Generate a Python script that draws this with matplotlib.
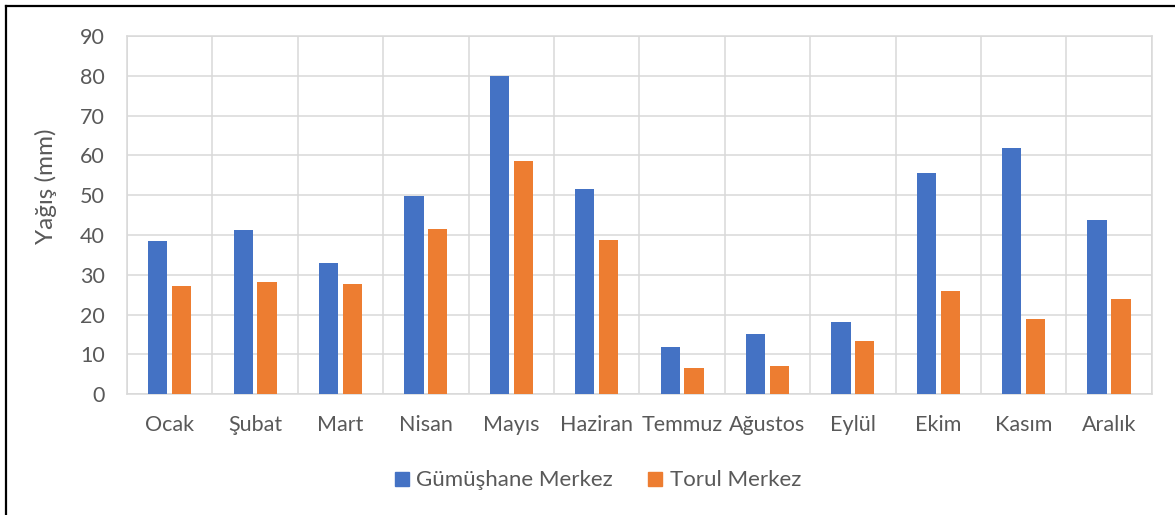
import matplotlib
matplotlib.use("Agg")
import matplotlib.pyplot as plt
import numpy as np
from matplotlib.lines import Line2D

months = ["Ocak", "Şubat", "Mart", "Nisan", "Mayıs", "Haziran",
          "Temmuz", "Ağustos", "Eylül", "Ekim", "Kasım", "Aralık"]
gumushane = [38.5, 41.2, 33.0, 49.8, 80.0, 51.5, 12.0, 15.2, 18.2, 55.5, 62.0, 43.7]
torul = [27.2, 28.3, 27.8, 41.5, 58.5, 38.8, 6.6, 7.0, 13.4, 25.9, 18.9, 23.9]
series_names = ["Gümüşhane Merkez", "Torul Merkez"]
yticks = list(range(0, 91, 10))

blue = "#4472C4"
orange = "#ED7D31"
txt = "#595959"
grid = "#D9D9D9"

plt.rcParams['font.family'] = ['Lato', 'DejaVu Sans']

fig = plt.figure(figsize=(11.75, 5.15), dpi=100)
ax = fig.add_axes([0.1081, 0.2344, 0.8721, 0.6956])

x = np.arange(len(months))
w = 0.225
ax.bar(x - 0.14, gumushane, width=w, color=blue, zorder=3, label=series_names[0])
ax.bar(x + 0.14, torul, width=w, color=orange, zorder=3, label=series_names[1])

ax.set_xlim(-0.5, len(months) - 0.5)
ax.set_ylim(0, 90)
ax.set_yticks(yticks)
ax.set_yticklabels([str(v) for v in yticks])
ax.set_xticks(x)
ax.set_xticklabels(months)
ax.set_xticks(np.arange(-0.5, len(months), 1.0), minor=True)

ax.grid(axis='y', which='major', color=grid, linewidth=1.1, zorder=0)
ax.grid(axis='x', which='minor', color=grid, linewidth=1.1, zorder=0)
ax.grid(axis='x', which='major', visible=False)

for s in ax.spines.values():
    s.set_color(grid)
    s.set_linewidth(1.1)

ax.tick_params(axis='both', which='both', length=0, labelsize=15.5, colors=txt)
ax.tick_params(axis='y', pad=16)
ax.tick_params(axis='x', pad=15)

ax.set_ylabel("Yağış (mm)", fontsize=17.5, color=txt, labelpad=12)
ax.yaxis.set_label_coords(-0.068, 0.58)

handles = [Line2D([0], [0], marker='s', linestyle='none', markersize=10.5,
                  markerfacecolor=blue, markeredgecolor=blue),
           Line2D([0], [0], marker='s', linestyle='none', markersize=10.5,
                  markerfacecolor=orange, markeredgecolor=orange)]
leg = fig.legend(handles, series_names, loc='center', bbox_to_anchor=(0.507, 1 - 480.5 / 515),
                 ncol=2, frameon=False, fontsize=16, handletextpad=0.15,
                 columnspacing=1.4, handlelength=1.0)
for t in leg.get_texts():
    t.set_color(txt)

# outer frame (top and left edges visible)
fig.add_artist(Line2D([6 / 1175, 6 / 1175], [0, 1 - 6 / 515], transform=fig.transFigure,
                      color='black', linewidth=1.6))
fig.add_artist(Line2D([6 / 1175, 1], [1 - 6 / 515, 1 - 6 / 515], transform=fig.transFigure,
                      color='black', linewidth=1.6))

fig.savefig("out.png", dpi=100, facecolor='white')
